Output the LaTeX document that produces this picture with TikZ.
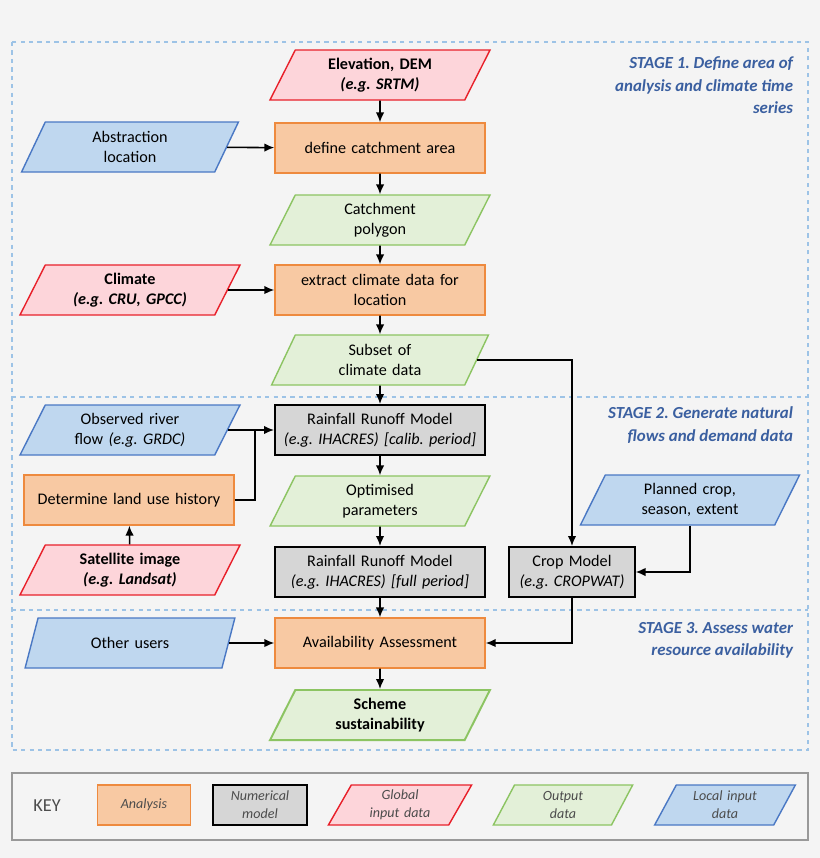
\documentclass[tikz,border=0pt]{standalone}
\usepackage{fontspec}
\setmainfont{Carlito}
\frenchspacing
\usetikzlibrary{shapes.geometric,arrows.meta}
\definecolor{bgc}{HTML}{F4F4F4}
\definecolor{anaF}{HTML}{F8C9A3}\definecolor{anaD}{HTML}{EE8A3E}
\definecolor{numF}{HTML}{D6D6D6}
\definecolor{glbF}{HTML}{FDD5DA}\definecolor{glbD}{HTML}{E8202A}
\definecolor{outF}{HTML}{E3F0D8}\definecolor{outD}{HTML}{8CC462}
\definecolor{locF}{HTML}{BFD7EF}\definecolor{locD}{HTML}{4A78C4}
\definecolor{stg}{HTML}{3A5FA0}
\definecolor{stageline}{HTML}{9DC3E6}
\tikzset{
 box/.style={draw, line width=1pt, minimum width=5.25cm, minimum height=1.25cm, align=center, text width=5cm, font=\fontsize{11.5}{14.5}\selectfont},
 analysis/.style={box, fill=anaF, draw=anaD},
 model/.style={box, fill=numF, draw=black, line width=1.4pt},
 para/.style={box, trapezium, trapezium left angle=60, trapezium right angle=120, trapezium stretches=true, text width=4cm},
 global/.style={para, fill=glbF, draw=glbD},
 output/.style={para, fill=outF, draw=outD},
 local/.style={para, fill=locF, draw=locD},
 flow/.style={-{Latex[length=7pt,width=6pt]}, line width=1.1pt},
 stage/.style={align=right, anchor=north east, text=stg, font=\fontsize{12}{16}\selectfont\bfseries\itshape},
}
\begin{document}
\begin{tikzpicture}[x=0.025cm, y=-0.025cm]
 \fill[bgc] (0,0) rectangle (820,858);
 \useasboundingbox (0,0) rectangle (820,858);
 % stages
 \draw[stageline, dashed, line width=1pt] (12,42) rectangle (808,750);
 \draw[stageline, dashed, line width=1pt] (12,397) -- (808,397);
 \draw[stageline, dashed, line width=1pt] (12,610) -- (808,610);
 \node[stage] (st1) at (798,52) {STAGE 1. Define area of\\analysis and climate time\\series};
 \node[stage] (st2) at (798,402) {STAGE 2. Generate natural\\flows and demand data};
 \node[stage] (st3) at (798,617) {STAGE 3. Assess water\\resource availability};

 % stage 1
 \node[global] (dem) at (380,75) {\textbf{Elevation, DEM}\\\textbf{\textit{(e.g. SRTM)}}};
 \node[local] (abs) at (130,147) {Abstraction\\location};
 \node[analysis] (catch) at (380,148) {define catchment area};
 \node[output] (poly) at (380,220) {Catchment\\polygon};
 \node[global] (clim) at (130,290) {\textbf{Climate}\\\textbf{\textit{(e.g. CRU, GPCC)}}};
 \node[analysis] (extr) at (380,290) {extract climate data for\\location};
 \node[output] (subs) at (380,360) {Subset of\\climate data};

 % stage 2
 \node[local] (obs) at (130,430) {Observed river\\flow \textit{(e.g. GRDC)}};
 \node[model] (calib) at (380,430) {Rainfall Runoff Model\\\textit{(e.g. IHACRES) [calib. period]}};
 \node[analysis] (land) at (129,500) {Determine land use history};
 \node[output] (opt) at (380,501) {Optimised\\parameters};
 \node[global] (sat) at (130,570) {\textbf{Satellite image}\\\textbf{\textit{(e.g. Landsat)}}};
 \node[model] (full) at (380,572) {Rainfall Runoff Model\\\textit{(e.g. IHACRES) [full period]}};
 \node[local] (plan) at (690,500) {Planned crop,\\season, extent};
 \node[model, minimum width=3cm, text width=2.9cm] (crop) at (572,572) {Crop Model\\\textit{(e.g. CROPWAT)}};

 % stage 3
 \node[local] (oth) at (130,643) {Other users};
 \node[analysis] (avail) at (380,643) {Availability Assessment};
 \node[output, line width=1.4pt] (sch) at (380,715) {\textbf{Scheme}\\\textbf{sustainability}};

 % connectors
 \draw[flow] (dem) -- (catch);
 \draw[flow] (abs) -- (catch);
 \draw[flow] (catch) -- (poly);
 \draw[flow] (poly) -- (extr);
 \draw[flow] (clim) -- (extr);
 \draw[flow] (extr) -- (subs);
 \draw[flow] (subs) -- (calib);
 \draw[flow] (subs.east) -| (crop.north);
 \draw[flow] (obs) -- (calib);
 \draw[line width=1.1pt] (land.east) -| (255,430);
 \draw[flow] (calib) -- (opt);
 \draw[flow] (opt) -- (full);
 \draw[flow] (sat) -- (land);
 \draw[flow] (plan.south) |- (crop.east);
 \draw[flow] (full) -- (avail);
 \draw[flow] (crop.south) |- (avail.east);
 \draw[flow] (oth) -- (avail);
 \draw[flow] (avail) -- (sch);

 % key
 \draw[black!40, line width=1pt] (12,773) rectangle (808,840);
 \node[font=\fontsize{13}{16}\selectfont, text=black!70] (key) at (47,806) {KEY};
 \tikzset{kfont/.style={font=\fontsize{10}{13}\selectfont\itshape, text=black!70}}
 \node[analysis, kfont, minimum width=2.3cm, text width=2.1cm, minimum height=1cm] (k1) at (144,805) {Analysis};
 \node[model, kfont, minimum width=2.25cm, text width=2.1cm, minimum height=1cm] (k2) at (260,805) {Numerical\\model};
 \node[global, kfont, minimum width=3.5cm, text width=2.2cm, minimum height=1cm] (k3) at (400,805) {Global\\input data};
 \node[output, kfont, minimum width=3.5cm, text width=2.2cm, minimum height=1cm] (k4) at (563,805) {Output\\data};
 \node[local, kfont, minimum width=3.5cm, text width=2.2cm, minimum height=1cm] (k5) at (725,805) {Local input\\data};
\end{tikzpicture}
\end{document}
